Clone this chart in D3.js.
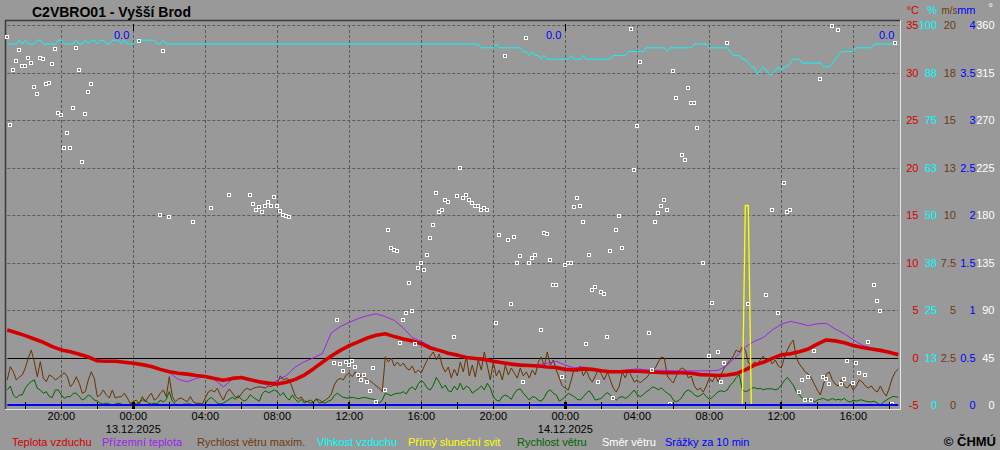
<!DOCTYPE html>
<html><head><meta charset="utf-8">
<script src="https://cdn.jsdelivr.net/npm/d3@7"></script>
<style>body{margin:0;background:#999;overflow:hidden}text{font-family:"Liberation Sans",Arial,sans-serif}</style>
</head><body><svg id="c" width="1000" height="450"></svg>
<script>
// ---- data ----
const stationTitle = "C2VBRO01 - Vyšší Brod";
const seriesStart = "2025-12-12T17:00";
const seriesEnd = "2025-12-14T18:30";
// air temperature, 30-min steps (°C)
const airTemp = [2.9,2.6,2.3,1.95,1.6,1.15,0.8,0.6,0.35,0.05,
-0.35,-0.4,-0.4,-0.5,-0.6,-0.75,-0.95,-1.25,-1.5,-1.65,
-1.75,-1.9,-2.0,-2.2,-2.4,-2.2,-2.1,-2.35,-2.55,-2.7,
-2.8,-2.6,-2.3,-1.85,-1.2,-0.5,0.15,0.75,1.25,1.65,
2.05,2.35,2.5,2.2,1.95,1.75,1.45,1.0,0.75,0.45,
0.25,0.0,-0.1,-0.2,-0.4,-0.55,-0.7,-0.8,-0.85,-0.9,
-1.0,-1.05,-1.25,-1.3,-1.2,-1.25,-1.4,-1.5,-1.5,-1.45,
-1.45,-1.5,-1.55,-1.6,-1.6,-1.6,-1.65,-1.8,-1.85,-1.9,
-1.85,-1.7,-1.3,-0.8,-0.5,-0.1,0.28,0.4,0.6,0.9,
1.4,1.85,1.75,1.55,1.26,1.05,0.9,0.75,0.55,0.3];
// ground temperature, 30-min steps (°C)
const groundTemp = [3.0,2.7,2.4,2.0,1.7,1.25,0.9,0.7,0.45,0.1,
-0.3,-0.35,-0.35,-0.45,-0.55,-0.7,-0.9,-1.2,-1.6,-2.3,
-2.55,-2.2,-2.0,-2.3,-3.1,-2.3,-2.1,-2.4,-2.7,-2.9,
-2.4,-1.9,-1.0,-0.45,-0.05,0.4,2.6,3.26,3.7,4.1,
4.4,4.6,4.3,3.9,3.1,2.1,1.7,1.2,0.8,0.5,
0.3,0.1,0.0,-0.1,-0.3,-0.5,-0.6,-0.7,-0.75,-0.75,
-0.6,-0.4,-0.8,-1.1,-1.0,-1.2,-1.5,-1.55,-1.45,-1.3,
-1.2,-1.3,-1.35,-1.35,-1.4,-1.4,-1.4,-1.4,-1.4,-1.35,
-0.8,0.1,1.1,1.7,2.1,2.9,3.5,3.8,3.6,3.35,
3.55,3.6,3.0,2.5,1.86,1.3,1.0,0.8,0.6,0.45];
// relative humidity, 10-min steps (%)
const humidity = [95,95,95,95,96,95,96,95,95,95,96,96,95,95,95,95,95,96,96,95,
95,95,95,96,95,95,96,95,96,96,95,96,96,95,95,96,96,96,95,96,
95,95,95,96,96,96,96,96,96,96,95,95,96,95,95,95,95,95,95,95,
95,95,95,95,95,95,95,95,95,95,95,95,95,95,95,95,95,95,95,95,
95,95,95,95,95,95,95,95,95,95,95,95,95,95,95,95,95,95,95,95,
95,95,95,95,95,95,95,95,95,95,95,95,95,95,95,95,95,95,95,95,
95,95,95,95,95,95,95,95,95,95,95,95,95,95,95,95,95,95,95,95,
95,95,95,95,95,95,95,95,95,95,95,95,95,95,95,95,95,95,
94,94,94,94,94,95,94,94,94,94,94,94,94,94,93,93,92,93,92,92,91,92,
91,91,91,91,91,91,91,91,92,91,91,91,92,91,91,91,91,91,91,91,91,91,
92,92,92,92,92,93,93,93,93,93,93,94,94,94,94,94,94,94,
93,94,94,94,94,94,94,94,94,95,95,95,95,95,94,94,94,94,94,94,94,
93,92,92,92,91,91,90,89,89,87,88,89,88,87,87,88,89,88,89,89,90,91,91,91,
90,90,90,90,90,90,90,89,89,89,90,91,92,93,93,93,93,93,94,94,94,94,94,94,95,95,95,95,95,95,95,95,95];
// max wind speed (gusts), 10-min steps (m/s)
const windMax = [1.32,2.02,1.75,1.32,1.47,1.58,1.95,2.47,2.89,2.26,
1.49,2.28,1.42,1.23,1.58,1.49,1.32,1.42,1.58,1.7,
1.49,0.96,1.14,1.49,1.14,0.62,0.7,1.32,1.75,1.4,
0.44,0.53,0.79,0.53,0.37,0.79,0.37,0.42,0.44,0.62,
0.37,0.09,0.17,0.26,0.05,0.44,0.17,0.42,0.62,0.26,
0.37,0.62,0.79,0.44,1.49,0.44,0.17,0.32,0.37,0.26,
0.17,0.44,0.17,0.09,0.09,0.05,0.37,0.68,0.79,0.68,
0.88,0.53,0.26,0.62,0.84,0.63,0.42,0.37,0.58,0.79,
0.88,0.79,0.88,0.93,0.96,0.93,0.89,1.0,0.97,1.05,
1.14,1.53,1.32,1.4,1.32,0.89,0.47,0.32,0.42,0.21,
0.17,0.26,0.17,0.32,0.26,0.17,0.26,0.37,0.58,1.05,
1.32,1.4,1.32,1.58,1.67,1.49,1.75,1.4,1.58,1.49,
1.32,1.26,1.14,1.0,0.88,0.7,2.54,2.26,2.47,2.05,
2.26,2.05,2.21,1.95,1.84,2.05,1.68,1.84,1.68,2.05,
2.37,2.58,2.79,2.37,2.68,2.05,1.74,2.0,1.42,1.89,
1.53,2.26,1.74,2.58,1.53,2.1,1.47,2.37,1.84,2.79,
2.05,1.32,2.26,1.53,1.84,1.32,2.1,1.58,1.95,1.68,
1.42,1.95,1.53,1.74,1.42,1.84,1.58,2.26,2.53,2.05,
2.79,2.1,2.37,1.84,1.42,1.0,0.89,0.79,1.32,1.95,
1.74,2.05,1.53,1.84,1.42,1.21,1.53,1.84,1.63,1.32,
1.74,1.32,0.89,0.68,1.0,1.74,1.42,1.84,1.53,1.21,
1.32,1.16,1.32,1.42,1.63,1.84,1.95,2.26,2.53,2.47,
1.53,1.32,1.16,1.53,1.84,1.95,1.84,1.42,1.53,1.0,
0.79,0.89,0.68,1.0,1.42,1.21,1.53,1.21,1.63,1.95,
2.16,2.37,2.58,2.89,2.79,3.05,2.89,2.26,2.05,2.26,
2.16,2.37,2.58,2.26,2.47,2.16,2.37,2.05,1.95,2.47,
2.89,3.21,3.42,2.47,2.16,1.95,1.74,1.63,1.42,1.1,
0.79,0.53,1.05,1.63,1.74,1.32,1.1,1.0,1.32,1.0,
0.89,1.1,0.79,1.0,1.32,1.21,1.0,0.89,1.0,0.79,
0.68,1.0,0.68,0.47,0.89,1.42,1.74,1.89];
// mean wind speed, 10-min steps (m/s)
const windAvg = [0.79,1.0,0.53,0.37,0.53,0.53,0.88,1.1,1.23,1.32,
0.88,0.79,0.62,0.7,0.44,0.4,0.79,0.79,0.53,0.35,
0.44,0.44,0.62,0.62,0.44,0.26,0.35,0.53,0.44,0.26,
0.21,0.1,0.05,0.1,0.05,0,0.05,0.1,0.05,0,
0,0.05,0.1,0.05,0.15,0.26,0.26,0.1,0.05,0.1,
0.05,0.26,0.15,0.3,0.7,0.2,0.05,0,0,0.05,
0.05,0.05,0,0.05,0.05,0,0.05,0.3,0.4,0.26,
0.1,0.05,0.1,0.2,0.3,0.4,0.3,0.5,0.3,0.2,
0.3,0.55,0.4,0.3,0.2,0.6,0.75,0.65,0.7,0.8,
0.7,0.5,0.66,0.4,0.26,0.53,0.3,0.15,0.3,0.1,
0.2,0.1,0.15,0.3,0.1,0.15,0.1,0.2,0.26,0.5,
0.62,0.5,0.4,0.37,0.37,0.4,0.37,0.33,0.37,0.4,
0.37,0.33,0.3,0.26,0.1,0.26,0.62,0.55,0.5,0.58,
0.62,0.62,0.7,0.58,0.85,0.95,0.79,1.1,1.3,1.14,
0.88,0.79,1.05,1.45,1.2,0.88,1.05,0.75,0.7,1.0,
0.79,1.15,0.79,1.0,0.9,0.62,0.75,0.85,1.0,0.8,
1.14,0.9,0.44,0.26,0.2,0.44,0.53,0.44,0.3,0.6,
0.8,0.85,0.62,0.44,0.26,0.44,0.4,0.26,0.2,0.4,
0.7,0.8,0.62,0.53,0.2,0.3,0.44,0.62,0.53,0.44,
0.3,0.26,0.44,0.62,0.75,0.53,0.26,0.3,0.35,0.53,
0.65,0.53,0.35,0.26,0.4,0.44,0.35,0.44,0.62,0.79,
0.53,0.44,0.55,0.7,0.8,0.95,0.9,0.8,0.9,0.75,
0.62,0.53,0.26,0.17,0.26,0.44,0.7,0.79,0.7,0.55,
0.44,0.5,0.62,0.44,0.3,0.4,0.55,0.7,0.75,0.7,
0.79,1.05,1.2,1.45,1.6,0.8,0.7,0.75,0.88,0.92,
0.85,0.88,0.8,0.85,0.85,0.85,0.8,0.85,1.05,1.28,
1.45,1.25,1.05,0.7,0.53,0.35,0.3,0.3,0.35,0.15,
0.26,0.3,0.35,0.26,0.26,0.35,0.26,0.3,0.26,0.35,
0.2,0.15,0.26,0.2,0.26,0.26,0.2,0.17,0.17,0.2,
0.1,0,0.15,0.26,0.35,0.44,0.44,0.4];
// wind direction, 10-min steps (degrees, null = calm)
const windDir = [349,265,317,326,336,321,321,329,324,301,
295,329,328,304,305,323,337,277,275,243,
258,243,281,338,317,230,276,297,304,null,
null,null,null,null,null,null,null,null,null,null,
null,null,null,null,345,null,null,null,null,null,
null,180,335,null,178,null,null,null,null,null,
null,null,173,null,null,null,null,null,187,null,
null,null,null,null,199,null,null,null,null,null,
null,199,190,185,188,183,189,192,189,197,
189,184,180,179,178,null,null,null,null,null,
null,null,null,null,null,null,null,null,null,40,
81,39,32,41,38,42,36,28,24,28,
22,13,35,3,null,null,14,166,149,147,
146,59,81,87,116,89,58,130,135,128,
142,158,171,201,183,185,194,192,null,64,
198,225,196,199,194,191,189,189,185,187,
185,null,null,78,161,null,331,156,96,159,
135,141,22,348,135,139,142,null,71,163,
162,137,114,114,null,27,133,135,135,188,
196,189,173,58,142,109,112,22,107,105,
64,146,7,166,179,149,null,null,356,223,
264,325,null,null,68,33,173,182,189,194,
185,1,316,291,null,237,232,300,286,286,
262,null,135,null,46,97,null,50,22,40,
343,null,null,null,null,null,null,96,null,null,
null,null,null,104,null,185,null,87,null,210,
183,185,null,null,12,24,5,27,5,51,
null,309,27,25,20,359,null,355,20,25,
42,null,21,40,30,null,28,60,null,114,
99,89,null,null,null,1,343,null];
// direct sunshine, 10-min steps starting 14.12. 09:30
const sunStart = "2025-12-14T09:30";
const sunshine = [0,0,0,10.5,10.5,0,0,0];
// precipitation per 10 min (mm) – hourly blocks of six values
const precip = [0,0,0,0,0,0, 0,0,0,0,0,0, 0,0,0,0,0,0, 0,0,0,0,0,0, 0,0,0,0,0,0,
0,0,0,0,0,0, 0,0,0,0,0,0, 0,0,0,0,0,0, 0,0,0,0,0,0, 0,0,0,0,0,0,
0,0,0,0,0,0, 0,0,0,0,0,0, 0,0,0,0,0,0, 0,0,0,0,0,0, 0,0,0,0,0,0,
0,0,0,0,0,0, 0,0,0,0,0,0, 0,0,0,0,0,0, 0,0,0,0,0,0, 0,0,0,0,0,0,
0,0,0,0,0,0, 0,0,0,0,0,0, 0,0,0,0,0,0, 0,0,0,0,0,0, 0,0,0,0,0,0,
0,0,0,0,0,0, 0,0,0,0,0,0, 0,0,0,0,0,0, 0,0,0,0,0,0, 0,0,0,0,0,0,
0,0,0,0,0,0, 0,0,0,0,0,0, 0,0,0,0,0,0, 0,0,0,0,0,0, 0,0,0,0,0,0,
0,0,0,0,0,0, 0,0,0,0,0,0, 0,0,0,0,0,0, 0,0,0,0,0,0, 0,0,0,0,0,0,
0,0,0,0,0,0, 0,0,0,0,0,0, 0,0,0,0,0,0, 0,0,0,0,0,0, 0,0,0,0,0,0,
0,0,0,0,0,0, 0,0,0,0,0,0, 0,0,0,0,0,0, 0,0,0,0,0,0, 0,0,0,0];
// daily precipitation sums (mm) for 12., 13., 14.12.
const dailyPrecipDays = ["2025-12-13T00:00","2025-12-14T00:00","2025-12-14T18:30"];
const dailyPrecip = ["0.0","0.0","0.0"];
// right-hand axes tick labels (bottom to top)
const tempTicks = [-5,0,5,10,15,20,25,30,35];
const humTicks = ["0","13","25","38","50","63","75","88","100"];
const windTicks = ["0","2.5","5","7.5","10","13","15","18","20"];
const rainTicks = ["0","0.5","1","1.5","2","2.5","3","3.5","4"];
const dirTicks = ["0","45","90","135","180","225","270","315","360"];
const axisUnits = ["°C","%","m/s","mm","°"];
const legendLabels = ["Teplota vzduchu","Přízemní teplota","Rychlost větru maxim.","Vlhkost vzduchu","Přímý sluneční svit","Rychlost větru","Směr větru","Srážky za 10 min"];
const copyright = "© ČHMÚ";

// ---- styles ----
const C = {bg:"#999999", red:"#d40000", purple:"#a020f0", brown:"#663300", cyan:"#00ffff",
  yellow:"#ffff00", green:"#006400", white:"#ffffff", blue:"#0000ff", grid:"#5a5a5a"};
const legendColors = [C.red,C.purple,"#6b3a12",C.cyan,C.yellow,"#006400",C.white,C.blue];
const legendX = [12,102,197,317,408,517,602,665];
const axisColors = ["#d40000","#00ffff","#6b3a12","#0000ff","#ffffff"];
const axisRight = [918.5,937,956,975.5,994.5];
const unitRight = [919,937,957.5,975.5,993];

const parse = d3.timeParse("%Y-%m-%dT%H:%M");
const T0 = parse(seriesStart), T1 = parse(seriesEnd);
const t10 = i => d3.timeMinute.offset(T0, i*10);
const t30 = i => d3.timeMinute.offset(T0, i*30);

const x = d3.scaleTime().domain([T0,T1]).range([7.3,898.3]);
const yT = d3.scaleLinear().domain([-5,35]).range([405,25]);
const yH = d3.scaleLinear().domain([0,100]).range([405,25]);
const yW = d3.scaleLinear().domain([0,20]).range([405,25]);
const yP = d3.scaleLinear().domain([0,4]).range([405,25]);
const yD = d3.scaleLinear().domain([0,360]).range([405,25]);

const svg = d3.select("#c");
svg.append("rect").attr("width",1000).attr("height",450).attr("fill",C.bg);

// frame
svg.append("line").attr("x1",5).attr("x2",900).attr("y1",20.5).attr("y2",20.5).attr("stroke","#3a3a3a").attr("stroke-width",1.5);
svg.append("line").attr("x1",5.5).attr("x2",5.5).attr("y1",20).attr("y2",410).attr("stroke","#3a3a3a").attr("stroke-width",1.5);
svg.append("line").attr("x1",900.5).attr("x2",900.5).attr("y1",20).attr("y2",410).attr("stroke","#e6e6e6");
svg.append("line").attr("x1",5).attr("x2",901).attr("y1",409.5).attr("y2",409.5).attr("stroke","#e6e6e6");

// grid
const g = svg.append("g");
tempTicks.filter(v=>v>0).forEach(v=>{
  g.append("line").attr("x1",x(T0)).attr("x2",x(T1)).attr("y1",Math.round(yT(v))+0.5).attr("y2",Math.round(yT(v))+0.5)
   .attr("stroke",C.grid).attr("stroke-dasharray","3,2");
});
const gridTimes = d3.timeHour.every(4).range(T0,T1);
gridTimes.forEach(t=>{
  g.append("line").attr("x1",Math.round(x(t))+0.5).attr("x2",Math.round(x(t))+0.5).attr("y1",25).attr("y2",405)
   .attr("stroke",C.grid).attr("stroke-dasharray","3,2");
});
g.append("line").attr("x1",x(T0)).attr("x2",x(T1)).attr("y1",Math.round(yT(0))+0.5).attr("y2",Math.round(yT(0))+0.5).attr("stroke","#000");

// series
function path(data, tf, ys, color, w){
  const line = d3.line().defined(d=>d!=null).x((d,i)=>x(tf(i))).y(d=>ys(d));
  svg.append("path").datum(data).attr("d",line).attr("fill","none").attr("stroke",color)
    .attr("stroke-width",w).attr("stroke-linejoin","round");
}
path(windAvg, t10, yW, C.green, 1);
path(windMax, t10, yW, C.brown, 1);
path(humidity, t10, yH, C.cyan, 1);
path(groundTemp, t30, yT, C.purple, 1);
path(airTemp, t30, yT, C.red, 3.6);
const sunT0 = parse(sunStart);
path(sunshine, i=>d3.timeMinute.offset(sunT0,i*10), yW, C.yellow, 1.3);

// wind direction markers
svg.append("g").selectAll("rect").data(windDir.map((d,i)=>({d,i})).filter(o=>o.d!=null)).join("rect")
  .attr("x",o=>Math.round(x(t10(o.i)))-1.5).attr("y",o=>Math.round(yD(o.d))-1.5).attr("width",3).attr("height",3)
  .attr("fill","#7a7a7a").attr("stroke","#fff").attr("stroke-width",1);

// precipitation
path(precip, t10, yP, C.blue, 2.2);

// bottom ticks
d3.timeHour.every(2).range(T0,T1).forEach(t=>{
  const h = t.getHours();
  const w = h===0 ? 3 : (h===12 ? 2 : 1);
  svg.append("rect").attr("x",Math.round(x(t))-Math.floor(w/2)).attr("y",402).attr("width",w).attr("height",7).attr("fill","#000");
  if(h===0) svg.append("rect").attr("x",Math.round(x(t))).attr("y",24).attr("width",1).attr("height",7).attr("fill","#000");
});

// x labels
const fmt = d3.timeFormat("%H:%M"), fmtD = d3.timeFormat("%d.%m.%Y");
gridTimes.forEach(t=>{
  svg.append("text").attr("x",x(t)).attr("y",420).attr("text-anchor","middle").attr("font-size",11).attr("fill","#000").text(fmt(t));
  if(t.getHours()===0) svg.append("text").attr("x",x(t)).attr("y",432.5).attr("text-anchor","middle").attr("font-size",11).attr("fill","#000").text(fmtD(t));
});

// daily precipitation sums
dailyPrecipDays.forEach((d,i)=>{
  svg.append("text").attr("x",x(parse(d))-4).attr("y",39).attr("text-anchor","end").attr("font-size",11).attr("fill",C.blue).text(dailyPrecip[i]);
});

// right axes
const tickSets = [tempTicks.map(String), humTicks, windTicks, rainTicks, dirTicks];
tickSets.forEach((set,k)=>{
  set.forEach((lab,j)=>{
    svg.append("text").attr("x",axisRight[k]).attr("y",yT(tempTicks[j])+4).attr("text-anchor","end")
      .attr("font-size",11).attr("fill",axisColors[k]).text(lab);
  });
  svg.append("text").attr("x",unitRight[k]).attr("y",k===4?11:14).attr("text-anchor","end")
    .attr("font-size",k===2?10:11).attr("fill",axisColors[k]).text(axisUnits[k]);
});

// title
svg.append("text").attr("x",32).attr("y",16.7).attr("font-size",14).attr("font-weight","bold").attr("fill","#000").text(stationTitle);

// legend
legendLabels.forEach((l,i)=>{
  svg.append("text").attr("x",legendX[i]).attr("y",445.5).attr("font-size",11).attr("fill",legendColors[i]).text(l);
});
svg.append("text").attr("x",996).attr("y",445.5).attr("text-anchor","end").attr("font-size",13).attr("font-weight","bold").attr("fill","#000").text(copyright);
</script></body></html>
